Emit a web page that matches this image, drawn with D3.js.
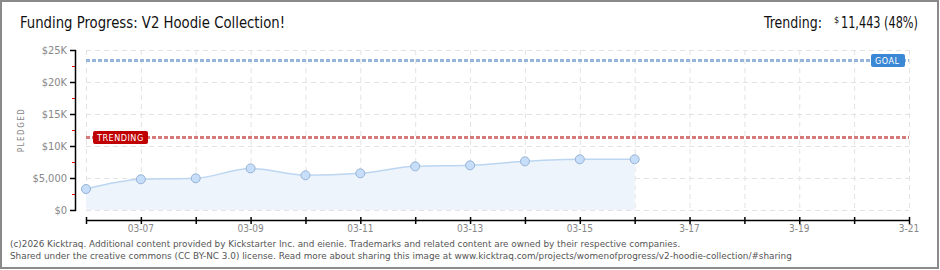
<!DOCTYPE html>
<html>
<head>
<meta charset="utf-8">
<script src="https://cdn.jsdelivr.net/npm/d3@7"></script>
<style>
  body { margin: 0; background: #fff; }
  svg { display: block; }
</style>
</head>
<body>
<svg id="chart" width="940" height="270"></svg>
<script>
// data
var days = ["03-06","03-07","03-08","03-09","03-10","03-11","03-12","03-13","03-14","03-15","03-16","03-17","03-18","03-19","03-20","03-21"];
var pledged = [3280, 4800, 4950, 6500, 5420, 5730, 6820, 6980, 7600, 7920, 7920];
var yTicks = [0, 5000, 10000, 15000, 20000, 25000];
var yTickLabels = ["$0", "$5,000", "$10K", "$15K", "$20K", "$25K"];
var xLabels = {"03-07":"03-07","03-09":"03-09","03-11":"03-11","03-13":"03-13","03-15":"03-15","03-17":"3-17","03-19":"3-19","03-21":"3-21"};
var goal = 23400;
var trending = 11443;

var svg = d3.select('#chart');
var x = d3.scalePoint().domain(days).range([86, 909]);
var y = d3.scaleLinear().domain([0, 25000]).range([210, 50]);

var pixFont = "'DejaVu Sans Condensed', 'DejaVu Sans', sans-serif";
var titleFont = "'DejaVu Sans Condensed', 'Liberation Sans Narrow', sans-serif";

// frame
svg.append('rect')
    .attr('x', 1).attr('y', 1).attr('width', 937).attr('height', 267)
    .attr('fill', '#fff').attr('stroke', '#8a8a8a').attr('stroke-width', 2);

// titles
svg.append('text')
    .attr('x', 20).attr('y', 28)
    .attr('font-family', titleFont).attr('font-weight', 300)
    .attr('font-size', 16).attr('fill', '#111')
    .attr('textLength', 265).attr('lengthAdjust', 'spacingAndGlyphs')
    .text('Funding Progress: V2 Hoodie Collection!');

var rt = svg.append('text')
    .attr('x', 764).attr('y', 28)
    .attr('font-family', titleFont)
    .attr('font-size', 16).attr('fill', '#111');
rt.append('tspan').attr('textLength', 58).attr('lengthAdjust', 'spacingAndGlyphs').text('Trending:');
rt.append('tspan').attr('x', 834).attr('font-size', 9).attr('dy', -5).text('$');
rt.append('tspan').attr('x', 841).attr('dy', 5)
    .attr('textLength', 77).attr('lengthAdjust', 'spacingAndGlyphs').text('11,443 (48%)');

// grid
var g = svg.append('g');
g.selectAll('line.hgrid').data(yTicks).enter().append('line')
    .attr('class', 'hgrid')
    .attr('x1', 86).attr('x2', 909)
    .attr('y1', function(d) {return y(d) + 0.5}).attr('y2', function(d) {return y(d) + 0.5})
    .attr('stroke', '#e3e3e3').attr('stroke-dasharray', '5,4');
g.selectAll('line.vgrid').data(days).enter().append('line')
    .attr('class', 'vgrid')
    .attr('x1', function(d) {return x(d) + 0.5}).attr('x2', function(d) {return x(d) + 0.5})
    .attr('y1', 50).attr('y2', 210)
    .attr('stroke', '#e3e3e3').attr('stroke-dasharray', '5,4');

// area + line
var pts = pledged.map(function(v, i) {return {day: days[i], value: v}});
var area = d3.area()
    .x(function(d) {return x(d.day)})
    .y0(y(0)).y1(function(d) {return y(d.value)})
    .curve(d3.curveMonotoneX);
var line = d3.line()
    .x(function(d) {return x(d.day)})
    .y(function(d) {return y(d.value)})
    .curve(d3.curveMonotoneX);

svg.append('path').datum(pts).attr('d', area).attr('fill', '#edf4fc');
svg.append('path').datum(pts).attr('d', line)
    .attr('fill', 'none').attr('stroke', '#bcd6f2').attr('stroke-width', 1.5);

// goal and trending lines
function refLine(val, color) {
    svg.append('line')
	.attr('x1', 86).attr('x2', 909)
	.attr('y1', Math.round(y(val)) + 0.5).attr('y2', Math.round(y(val)) + 0.5)
	.attr('stroke', color).attr('stroke-width', 3).attr('stroke-dasharray', '4,2');
}
refLine(goal, '#95b5dd');
refLine(trending, '#d47a7a');

// labels on ref lines
function refTag(val, x0, w, fill, label) {
    var yy = Math.round(y(val));
    svg.append('rect')
	.attr('x', x0).attr('y', yy - 6).attr('width', w).attr('height', 13)
	.attr('rx', 2).attr('fill', fill);
    svg.append('text')
	.attr('x', x0 + 4).attr('y', yy + 4)
	.attr('font-family', pixFont).attr('font-size', 9)
	.attr('letter-spacing', 0.5).attr('fill', '#fff')
	.text(label);
}
refTag(trending, 93, 55, '#c00000', 'TRENDING');
refTag(goal, 871, 34, '#3a87d6', 'GOAL');

// points
svg.selectAll('circle.pt').data(pts).enter().append('circle')
    .attr('class', 'pt')
    .attr('cx', function(d) {return x(d.day)})
    .attr('cy', function(d) {return y(d.value)})
    .attr('r', 4.5)
    .attr('fill', '#c6defa').attr('stroke', '#97b2d3').attr('stroke-width', 1);

// y axis
var yAxis = svg.append('g');
yAxis.append('line')
    .attr('x1', 75.5).attr('x2', 75.5).attr('y1', 50).attr('y2', 211)
    .attr('stroke', '#000').attr('stroke-width', 1.5);
yAxis.selectAll('line.maj').data(yTicks).enter().append('line')
    .attr('class', 'maj')
    .attr('x1', 70).attr('x2', 76)
    .attr('y1', function(d) {return y(d) + 0.5}).attr('y2', function(d) {return y(d) + 0.5})
    .attr('stroke', '#000').attr('stroke-width', 1.5);
yAxis.selectAll('line.minr').data(d3.range(2500, 25000, 5000)).enter().append('line')
    .attr('class', 'minr')
    .attr('x1', 72).attr('x2', 75)
    .attr('y1', function(d) {return y(d) + 0.5}).attr('y2', function(d) {return y(d) + 0.5})
    .attr('stroke', '#e00').attr('stroke-width', 1);
yAxis.selectAll('text').data(yTicks).enter().append('text')
    .attr('x', 67).attr('y', function(d) {return y(d) + 4})
    .attr('text-anchor', 'end')
    .attr('font-family', pixFont).attr('font-size', 11).attr('fill', '#888')
    .text(function(d, i) {return yTickLabels[i]});

svg.append('text')
    .attr('transform', 'translate(24,130) rotate(-90)')
    .attr('text-anchor', 'middle')
    .attr('font-family', pixFont).attr('font-size', 8).attr('letter-spacing', 1.5)
    .attr('fill', '#888')
    .text('PLEDGED');

// x axis
var xAxis = svg.append('g');
xAxis.append('line')
    .attr('x1', 86).attr('x2', 910).attr('y1', 220.5).attr('y2', 220.5)
    .attr('stroke', '#000').attr('stroke-width', 1.5);
xAxis.selectAll('line.tk').data(days).enter().append('line')
    .attr('class', 'tk')
    .attr('x1', function(d) {return x(d) + 0.5}).attr('x2', function(d) {return x(d) + 0.5})
    .attr('y1', 217).attr('y2', 224)
    .attr('stroke', '#000').attr('stroke-width', 1.5);
xAxis.selectAll('text').data(days.filter(function(d) {return xLabels[d]})).enter().append('text')
    .attr('x', function(d) {return x(d)}).attr('y', 232)
    .attr('text-anchor', 'middle')
    .attr('font-family', pixFont).attr('font-size', 10).attr('fill', '#888')
    .text(function(d) {return xLabels[d]});

// footer
var foot = ["(c)2026 Kicktraq. Additional content provided by Kickstarter Inc. and eienie. Trademarks and related content are owned by their respective companies.",
	    "Shared under the creative commons (CC BY-NC 3.0) license. Read more about sharing this image at www.kicktraq.com/projects/womenofprogress/v2-hoodie-collection/#sharing"];
svg.selectAll('text.foot').data(foot).enter().append('text')
    .attr('class', 'foot')
    .attr('x', 10).attr('y', function(d, i) {return 247 + i * 12})
    .attr('font-family', "'DejaVu Sans', sans-serif").attr('font-size', 8.85)
    .attr('fill', '#555')
    .text(function(d) {return d});
</script>
</body>
</html>
